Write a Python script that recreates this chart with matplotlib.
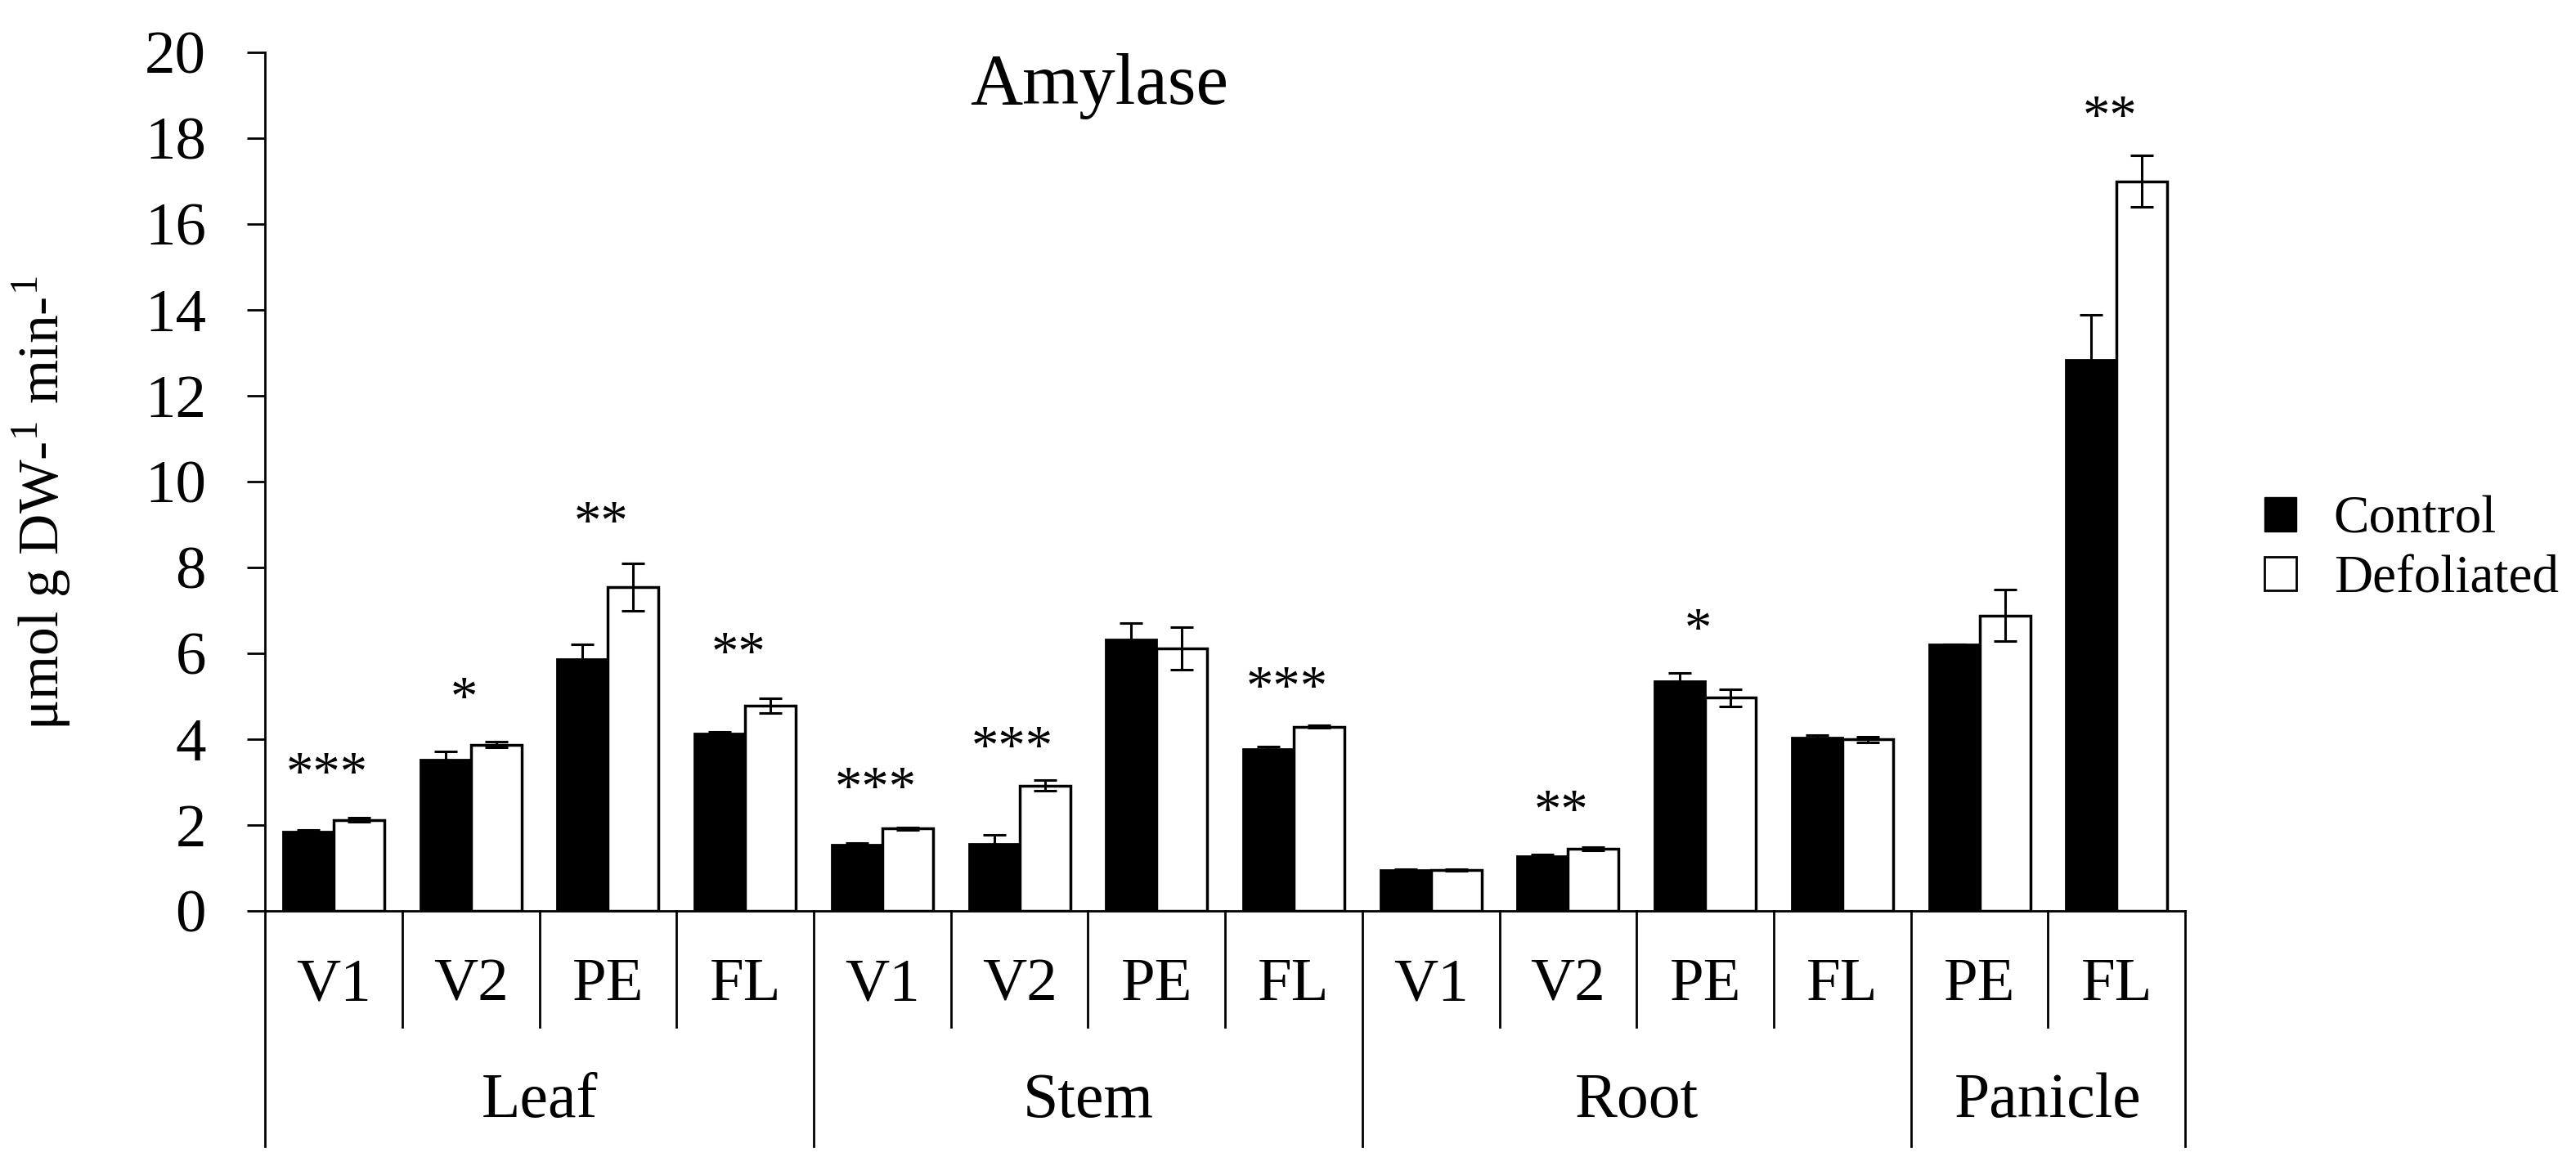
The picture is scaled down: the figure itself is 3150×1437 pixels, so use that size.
import numpy as np
import matplotlib
matplotlib.use("Agg")
import matplotlib.pyplot as plt
from matplotlib.patches import Patch

plt.rcParams['font.family'] = ['Liberation Serif', 'DejaVu Serif']
plt.rcParams['mathtext.fontset'] = 'stix'

# data
stages = ["V1", "V2", "PE", "FL", "V1", "V2", "PE", "FL", "V1", "V2", "PE", "FL", "PE", "FL"]
organs = ["Leaf", "Stem", "Root", "Panicle"]
organ_sizes = [4, 4, 4, 2]
control = [1.85, 3.52, 5.86, 4.13, 1.54, 1.57, 6.32, 3.78, 0.96, 1.28, 5.36, 4.04, 6.21, 12.83]
control_err = [0.04, 0.2, 0.35, 0.05, 0.04, 0.2, 0.38, 0.04, 0.02, 0.03, 0.18, 0.05, 0.0, 1.05]
defoliated = [2.12, 3.87, 7.54, 4.78, 1.92, 2.92, 6.11, 4.29, 0.95, 1.45, 4.97, 3.99, 6.88, 16.99]
defoliated_err = [0.05, 0.07, 0.55, 0.17, 0.03, 0.12, 0.5, 0.03, 0.02, 0.04, 0.2, 0.06, 0.6, 0.6]
stars = ["***", "*", "**", "**", "***", "***", "", "***", "", "**", "*", "", "", "**"]
star_y = [3.15, 4.9, 9.0, 5.95, 2.8, 3.76, 0, 5.15, 0, 2.28, 6.5, 0, 0, 18.45]

fig = plt.figure(figsize=(31.5, 14.37), dpi=100)
ax = fig.add_axes([0.1029, 0.2248, 0.8483 - 0.1029, 0.9555 - 0.2248])

x = np.arange(len(stages)) + 0.5
w = 0.37
ax.bar(x - w / 2, control, w, color="black", edgecolor="black", linewidth=2, label="Control")
ax.bar(x + w / 2, defoliated, w, color="white", edgecolor="black", linewidth=2.5, label="Defoliated")
ax.errorbar(x - w / 2, control, yerr=control_err, fmt="none", ecolor="black", elinewidth=2.2, capsize=10, capthick=2.2)
ax.errorbar(x + w / 2, defoliated, yerr=defoliated_err, fmt="none", ecolor="black", elinewidth=2.2, capsize=10, capthick=2.2)

for xi, s, yi in zip(x, stars, star_y):
    if s:
        ax.text(xi - 0.05, yi, s, ha="center", va="center", fontsize=48)

ax.set_xlim(0, len(stages))
ax.set_ylim(0, 20)
ax.set_yticks(np.arange(0, 21, 2))
ax.tick_params(axis="y", direction="out", length=16, width=2, labelsize=54, pad=36)
ax.set_xticks([])
for side in ["top", "right"]:
    ax.spines[side].set_visible(False)
ax.spines["left"].set_linewidth(2)
ax.spines["bottom"].set_linewidth(2)

# category labels and divider lines under the axis
trans = ax.get_xaxis_transform()
for xi, s in zip(x, stages):
    ax.text(xi, -0.087, s, ha="center", va="center", fontsize=54, transform=trans)
bounds = np.concatenate([[0], np.cumsum(organ_sizes)])
for i in range(1, len(stages)):
    if i not in bounds:
        ax.plot([i, i], [0, -0.135], color="black", lw=2, transform=trans, clip_on=False)
for b in bounds:
    ax.plot([b, b], [0, -0.274], color="black", lw=2, transform=trans, clip_on=False)
for i, name in enumerate(organs):
    ax.text((bounds[i] + bounds[i + 1]) / 2, -0.222, name, ha="center", va="center",
            fontsize=56, transform=trans)

ax.text(6.08, 19.2, "Amylase", ha="center", va="center", fontsize=64)

fig.text(0.016, 0.572, r"μmol g DW-$^{\mathregular{1}}$ min-$^{\mathregular{1}}$",
         rotation=90, ha="center", va="center", fontsize=50)

handles = [Patch(facecolor="black", edgecolor="black"),
           Patch(facecolor="white", edgecolor="black", linewidth=2)]
fig.legend(handles, ["Control", "Defoliated"], loc="center left", bbox_to_anchor=(0.879, 0.532),
           frameon=False, fontsize=47, handlelength=0.6, handleheight=0.6, handletextpad=0.7,
           labelspacing=0.2, borderpad=0, borderaxespad=0)

fig.savefig("out.png", dpi=100)
